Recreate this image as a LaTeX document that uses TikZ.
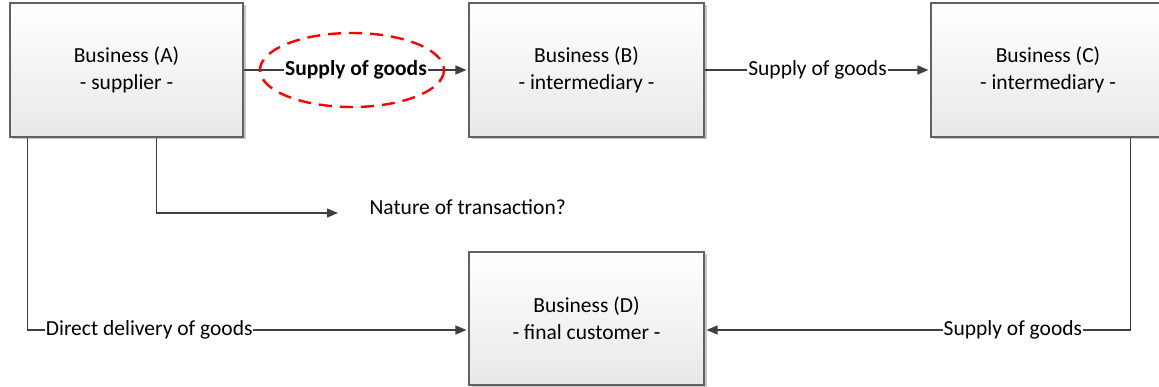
\documentclass[tikz,border=0pt]{standalone}
\usepackage{fontspec}
\setmainfont{Carlito}
\usetikzlibrary{arrows.meta,shadows,calc}
\begin{document}
\begin{tikzpicture}[x=1pt,y=-1pt,
  txt/.style={font=\fontsize{21.5}{27}\selectfont},
  box/.style={txt, draw=black!62, line width=1.1pt, top color=white, bottom color=black!9,
    minimum width=233pt, minimum height=134pt, align=center, inner sep=0pt,
    drop shadow={shadow xshift=2.5pt,shadow yshift=-2.5pt,fill=black!22,opacity=1}},
  conn/.style={draw=black!75, line width=1.4pt, -{Triangle[length=11pt,width=9pt]}, shorten >=2pt},
  lbl/.style={txt, fill=white, inner sep=1pt}]
\useasboundingbox (0,0) rectangle (1159,387);
\node[box] (A) at (126.5,70) {Business (A)\\- supplier -};
\node[box, minimum width=235pt] (B) at (586.5,70) {Business (B)\\- intermediary -};
\node[box, minimum width=234pt] (C) at (1048,70) {Business (C)\\- intermediary -};
\node[box, minimum width=235pt, minimum height=133pt] (D) at (586.5,318.5) {Business (D)\\- final customer -};
\coordinate (yd) at (0,330);
\coordinate (nt) at (340,213);
\node[txt, anchor=west] (nat) at (366,207) {Nature of transaction?};
\draw[conn] (A) -- node[lbl] (s1) {\bfseries Supply of goods} (B);
\draw[red, line width=2.4pt, dash pattern=on 13pt off 8pt] ([xshift=-4pt]s1.center) ellipse [x radius=92, y radius=37];
\draw[conn] (B) -- node[lbl] (s2) {Supply of goods} (C);
\draw[conn] ([xshift=18pt]A.south west) |- node[lbl, pos=0.638] (dd) {Direct delivery of goods} (D.west |- yd);
\draw[conn] ([xshift=147pt]A.south west) |- (nt);
\draw[conn] ([xshift=200pt]C.south west) |- node[lbl, pos=0.638] (s3) {Supply of goods} (D.east |- yd);
\end{tikzpicture}
\end{document}
